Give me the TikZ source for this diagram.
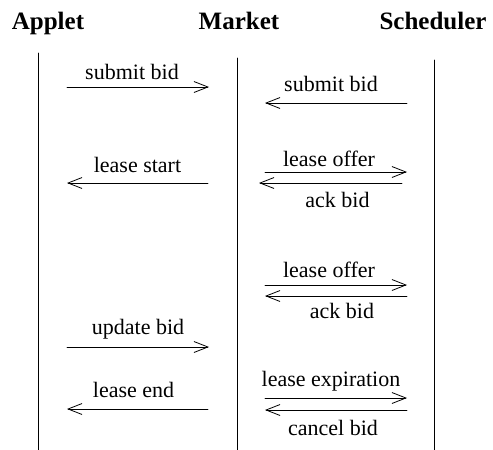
\documentclass[tikz,border=0pt]{standalone}
\usepackage{fontspec}
\setmainfont{Liberation Serif}
\usetikzlibrary{arrows.meta}

\tikzset{
  actor/.style={font=\fontsize{25}{30}\selectfont\bfseries, anchor=base, inner sep=0pt},
  lifeline/.style={line width=0.8pt},
  msg/.style={line width=0.8pt, -{Straight Barb[length=14pt,width=11pt]}},
  lbl/.style={font=\fontsize{22}{26}\selectfont, inner sep=0pt, text depth=0pt},
}

\begin{document}
\begin{tikzpicture}[x=1pt, y=-1pt, line cap=round, line join=round]
  \useasboundingbox (0,0) rectangle (493,450);

  %--------------------------
  % Participants and lifelines
  %--------------------------
  \node[actor] (applet)    at (48,29)  {Applet};
  \node[actor] (market)    at (239,29) {Market};
  \node[actor] (scheduler) at (433,29) {Scheduler};

  \coordinate (applet top)    at (38,53);
  \coordinate (applet bot)    at (38,450);
  \coordinate (market top)    at (237,58);
  \coordinate (market bot)    at (237,450);
  \coordinate (scheduler top) at (434,60);
  \coordinate (scheduler bot) at (434,450);

  \draw[lifeline] (applet top) -- (applet bot);
  \draw[lifeline] (market top) -- (market bot);
  \draw[lifeline] (scheduler top) -- (scheduler bot);

  %--------------------------
  % Applet <-> Market
  %--------------------------
  \coordinate (am1l) at (67,87);   \coordinate (am1r) at (209,87);
  \coordinate (am2l) at (67,183);  \coordinate (am2r) at (208,183);
  \coordinate (am3l) at (67,347);  \coordinate (am3r) at (209,347);
  \coordinate (am4l) at (67,409);  \coordinate (am4r) at (208,409);

  \draw[msg] (am1l) -- node[lbl, above=7pt, xshift=-6pt] {submit bid} (am1r);
  \draw[msg] (am2r) -- node[lbl, above=10pt] {lease start} (am2l);
  \draw[msg] (am3l) -- node[lbl, above=12pt] {update bid} (am3r);
  \draw[msg] (am4r) -- node[lbl, above=11pt, xshift=-4pt] {lease end} (am4l);

  %--------------------------
  % Market <-> Scheduler
  %--------------------------
  \coordinate (ms1l) at (265,103); \coordinate (ms1r) at (407,103);
  \coordinate (ms2l) at (265,172); \coordinate (ms2r) at (407,172);
  \coordinate (ms3l) at (259,183); \coordinate (ms3r) at (402,183);
  \coordinate (ms4l) at (265,285); \coordinate (ms4r) at (407,285);
  \coordinate (ms5l) at (265,296); \coordinate (ms5r) at (407,296);
  \coordinate (ms6l) at (265,398); \coordinate (ms6r) at (407,398);
  \coordinate (ms7l) at (265,410); \coordinate (ms7r) at (407,410);

  \draw[msg] (ms1r) -- node[lbl, above=11pt, xshift=-5pt] {submit bid} (ms1l);
  \draw[msg] (ms2l) -- node[lbl, above=5pt, xshift=-7pt] {lease offer} (ms2r);
  \draw[msg] (ms3r) -- node[lbl, below=9pt, xshift=7pt] {ack bid} (ms3l);
  \draw[msg] (ms4l) -- node[lbl, above=7pt, xshift=-7pt] {lease offer} (ms4r);
  \draw[msg] (ms5r) -- node[lbl, below=7pt, xshift=6pt] {ack bid} (ms5l);
  \draw[msg] (ms6l) -- node[lbl, above=11pt, xshift=-5pt] {lease expiration} (ms6r);
  \draw[msg] (ms7r) -- node[lbl, below=10pt, xshift=-3pt] {cancel bid} (ms7l);

\end{tikzpicture}
\end{document}
